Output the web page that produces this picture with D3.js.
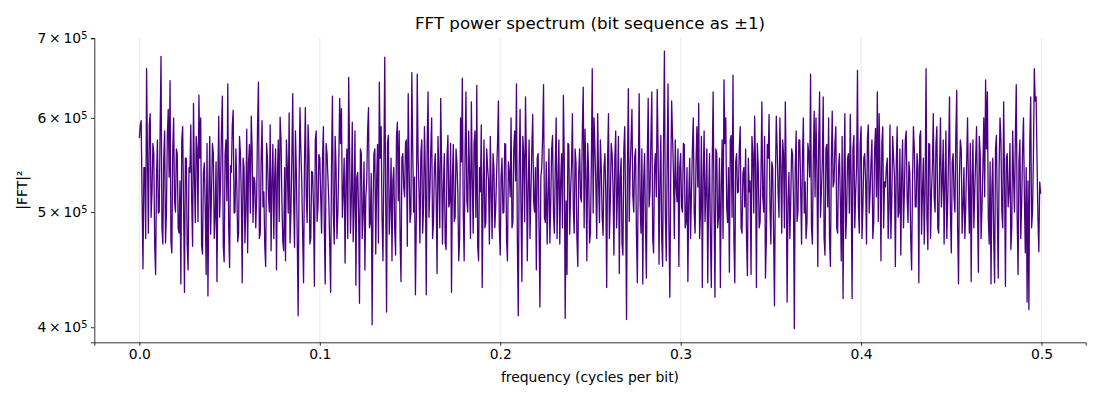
<!DOCTYPE html>
<html lang="en">
<head>
    <meta charset="UTF-8">
    <title>FFT power spectrum</title>
    <style>
        body { margin: 0; background: #fff; }
        text { font-family: "DejaVu Sans", sans-serif; fill: #000; }
        .line { fill: none; stroke: #4b0082; stroke-width: 1.3; stroke-linejoin: round; }
        .grid line { stroke: #e5e5e5; stroke-width: 0.8; }
        .axis path, .axis line { stroke: #000; stroke-width: 0.8; }
    </style>
</head>
<body>
    <svg id="container" width="1100" height="400">
        <g id="body"></g>
    </svg>
<script src="https://cdn.jsdelivr.net/npm/d3@7"></script>
<script>

// frequency grid: 0, 0.0005, ... 0.4995 (cycles per bit)
const freqStep = 0.0005

// |FFT|^2, in thousands
const powerK = [
    577, 592, 597, 515, 448, 545, 545, 475, 660, 555, 480, 592, 605, 495, 520, 571, 560, 468, 443, 535,
    575, 499, 500, 587, 676, 485, 470, 555, 585, 471, 500, 579, 610, 535, 645, 472, 462, 565, 600, 511,
    500, 565, 560, 485, 480, 531, 435, 575, 590, 505, 428, 555, 555, 470, 447, 545, 540, 592, 510, 468,
    617, 535, 490, 579, 565, 491, 627, 555, 600, 468, 461, 539, 550, 505, 443, 571, 425, 515, 579, 479,
    520, 571, 560, 475, 495, 551, 437, 531, 602, 495, 530, 585, 626, 468, 454, 559, 575, 511, 641, 485,
    449, 547, 540, 592, 609, 499, 500, 565, 525, 472, 480, 579, 560, 515, 436, 555, 545, 471, 505, 587,
    462, 551, 570, 499, 602, 565, 490, 535, 530, 485, 515, 592, 643, 475, 480, 555, 597, 505, 520, 468,
    450, 571, 555, 519, 500, 592, 464, 531, 570, 475, 535, 565, 447, 539, 575, 491, 601, 575, 510, 472,
    464, 545, 455, 575, 545, 499, 606, 471, 500, 555, 629, 511, 467, 585, 540, 475, 409, 527, 612, 565,
    530, 479, 436, 551, 612, 515, 490, 592, 560, 470, 475, 541, 540, 505, 433, 575, 585, 491, 505, 559,
    555, 515, 480, 555, 590, 485, 435, 571, 560, 535, 510, 468, 428, 551, 626, 499, 470, 579, 545, 475,
    500, 545, 623, 571, 611, 495, 520, 555, 453, 531, 565, 475, 649, 565, 480, 515, 595, 472, 510, 585,
    434, 535, 540, 499, 419, 565, 560, 475, 500, 551, 447, 515, 530, 585, 612, 485, 490, 539, 402, 505,
    560, 565, 461, 531, 570, 471, 643, 555, 590, 495, 455, 545, 675, 515, 412, 571, 580, 479, 505, 555,
    455, 531, 545, 485, 460, 579, 595, 511, 585, 475, 437, 555, 560, 525, 515, 571, 575, 468, 629, 545,
    490, 499, 655, 565, 500, 535, 426, 495, 653, 555, 520, 471, 560, 575, 480, 505, 590, 539, 426, 571,
    631, 495, 520, 565, 600, 475, 490, 545, 560, 515, 444, 579, 540, 485, 623, 551, 470, 525, 560, 471,
    465, 555, 580, 505, 510, 571, 428, 535, 570, 491, 495, 565, 550, 519, 455, 475, 600, 551, 648, 499,
    455, 559, 631, 511, 500, 585, 540, 475, 619, 535, 480, 571, 585, 495, 639, 468, 455, 545, 520, 592,
    432, 515, 575, 485, 490, 565, 545, 531, 470, 579, 520, 475, 560, 545, 485, 505, 540, 571, 620, 485,
    460, 535, 555, 499, 500, 571, 570, 475, 455, 551, 540, 515, 600, 485, 490, 565, 585, 531, 641, 471,
    409, 545, 610, 505, 437, 579, 560, 491, 625, 555, 455, 525, 575, 475, 520, 565, 604, 511, 500, 545,
    447, 555, 560, 485, 416, 535, 545, 579, 640, 495, 490, 551, 470, 515, 565, 471, 510, 565, 580, 499,
    480, 545, 600, 475, 530, 575, 470, 531, 560, 485, 627, 555, 407, 511, 443, 571, 570, 479, 520, 547,
    605, 505, 480, 565, 550, 475, 450, 539, 565, 515, 510, 585, 637, 485, 587, 535, 455, 571, 540, 471,
    480, 551, 660, 499, 600, 565, 525, 475, 605, 531, 490, 575, 545, 495, 478, 545, 560, 519, 432, 555,
    605, 475, 510, 571, 560, 525, 460, 555, 585, 485, 520, 579, 444, 535, 555, 471, 460, 565, 590, 505,
    406, 545, 635, 491, 540, 575, 610, 515, 500, 555, 565, 479, 436, 539, 629, 511, 480, 565, 435, 531,
    560, 485, 440, 555, 623, 505, 520, 575, 631, 475, 462, 545, 560, 515, 634, 565, 452, 531, 580, 475,
    450, 571, 683, 499, 455, 551, 641, 485, 424, 535, 620, 579, 540, 475, 575, 525, 510, 565, 450, 545,
    560, 505, 500, 571, 570, 485, 490, 545, 437, 515, 555, 475, 520, 565, 600, 499, 480, 551, 590, 525,
    617, 475, 500, 579, 432, 535, 585, 491, 520, 565, 436, 515, 560, 475, 432, 551, 631, 505, 424, 565,
    560, 485, 495, 555, 432, 525, 575, 475, 646, 571, 600, 505, 490, 545, 445, 575, 580, 495, 652, 475,
    436, 551, 560, 519, 520, 565, 590, 485, 480, 539, 545, 505, 565, 475, 442, 555, 520, 531, 443, 579,
    560, 499, 602, 545, 432, 571, 545, 485, 490, 535, 619, 515, 500, 579, 440, 475, 570, 555, 604, 505,
    470, 551, 545, 479, 417, 531, 602, 565, 520, 495, 600, 545, 480, 575, 560, 485, 619, 535, 420, 511,
    540, 475, 510, 565, 560, 515, 399, 545, 585, 491, 500, 575, 575, 525, 470, 555, 600, 499, 530, 475,
    490, 571, 560, 535, 653, 485, 470, 555, 608, 515, 600, 545, 450, 571, 631, 495, 520, 551, 625, 475,
    460, 565, 570, 505, 600, 475, 450, 551, 608, 525, 530, 571, 590, 485, 480, 545, 560, 511, 455, 579,
    423, 535, 605, 475, 500, 555, 560, 499, 604, 531, 423, 565, 580, 485, 520, 545, 658, 505, 480, 571,
    590, 475, 505, 555, 560, 531, 470, 575, 592, 499, 520, 551, 575, 475, 490, 565, 588, 515, 631, 491,
    605, 545, 455, 571, 590, 485, 530, 525, 545, 555, 475, 505, 592, 475, 510, 579, 555, 535, 450, 551,
    590, 495, 500, 565, 460, 535, 575, 485, 520, 575, 585, 515, 490, 551, 540, 475, 447, 531, 590, 565,
    505, 505, 560, 545, 436, 579, 585, 479, 520, 555, 470, 525, 660, 495, 465, 571, 570, 475, 520, 545,
    605, 515, 500, 571, 590, 485, 480, 545, 600, 505, 530, 575, 470, 531, 585, 475, 510, 559, 625, 499,
    462, 551, 560, 515, 500, 579, 633, 485, 435, 535, 575, 565, 480, 505, 545, 475, 505, 551, 600, 525,
    480, 571, 437, 535, 575, 485, 520, 555, 590, 505, 445, 579, 560, 475, 505, 545, 600, 515, 646, 565,
    631, 495, 470, 551, 435, 525, 555, 475, 436, 565, 580, 499, 440, 545, 600, 575, 500, 485, 619, 535,
    433, 555, 560, 505, 520, 571, 465, 485, 585, 535, 500, 579, 640, 495, 443, 551, 575, 475, 510, 565,
    600, 515, 462, 545, 420, 531, 414, 575, 625, 485, 500, 555, 660, 620, 625, 555, 495, 463, 530, 518
]

const xTicks = [0.0, 0.1, 0.2, 0.3, 0.4, 0.5]
const yTicks = [4e5, 5e5, 6e5, 7e5]

const margin = { top: 38, right: 14.3, bottom: 57.7, left: 94.3 }
const bodyWidth = 1100 - margin.left - margin.right
const bodyHeight = 400 - margin.top - margin.bottom

const data = powerK.map((p, i) => ({ f: i * freqStep, p: p * 1000 }))

let svg = d3.select("#container")
let body = d3.select("#body")
    .attr("transform", "translate(" + margin.left + "," + margin.top + ")")

let xScale = d3.scaleLinear()
    .domain([-0.02498, 0.52448])
    .range([0, bodyWidth])

let yScale = d3.scaleLog()
    .domain([388500, 700500])
    .range([bodyHeight, 0])

// vertical grid at x ticks
body.append("g")
    .attr("class", "grid")
    .selectAll("line")
    .data(xTicks)
    .join("line")
    .attr("x1", d => xScale(d))
    .attr("x2", d => xScale(d))
    .attr("y1", 0)
    .attr("y2", bodyHeight)

let line = d3.line()
    .x(d => xScale(d.f))
    .y(d => yScale(d.p))

body.append("path")
    .datum(data)
    .attr("class", "line")
    .attr("d", line)

// x axis
let xAxis = body.append("g")
    .attr("class", "axis")
    .attr("transform", "translate(0," + bodyHeight + ")")
    .call(d3.axisBottom(xScale)
        .tickValues(xTicks)
        .tickFormat(d3.format(".1f"))
        .tickSizeOuter(0)
        .tickSize(3.5)
        .tickPadding(3.5))
xAxis.selectAll("text").style("font-size", "13.9px")

// y axis (log), labels as "n × 10^5"
let yAxis = body.append("g")
    .attr("class", "axis")
    .call(d3.axisLeft(yScale)
        .tickValues(yTicks)
        .tickFormat("")
        .tickSizeOuter(0)
        .tickSize(3.5))

yAxis.selectAll(".tick").each(function(d) {
    let t = d3.select(this).append("text")
        .attr("x", -7)
        .attr("dy", "0.32em")
        .attr("text-anchor", "end")
        .style("font-size", "13.9px")
    t.append("tspan").text(d / 1e5 + "\u2009\u00d7\u200910")
    t.append("tspan")
        .attr("dy", "-0.45em")
        .style("font-size", "9.7px")
        .text("5")
})

// title and labels
svg.append("text")
    .attr("x", margin.left + bodyWidth / 2)
    .attr("y", 29)
    .attr("text-anchor", "middle")
    .style("font-size", "16.7px")
    .text("FFT power spectrum (bit sequence as \u00b11)")

svg.append("text")
    .attr("x", margin.left + bodyWidth / 2)
    .attr("y", 382)
    .attr("text-anchor", "middle")
    .style("font-size", "13.9px")
    .text("frequency (cycles per bit)")

svg.append("text")
    .attr("transform", "translate(27," + (margin.top + bodyHeight / 2) + ") rotate(-90)")
    .attr("text-anchor", "middle")
    .style("font-size", "13.9px")
    .text("|FFT|\u00b2")

</script>
</body>
</html>
